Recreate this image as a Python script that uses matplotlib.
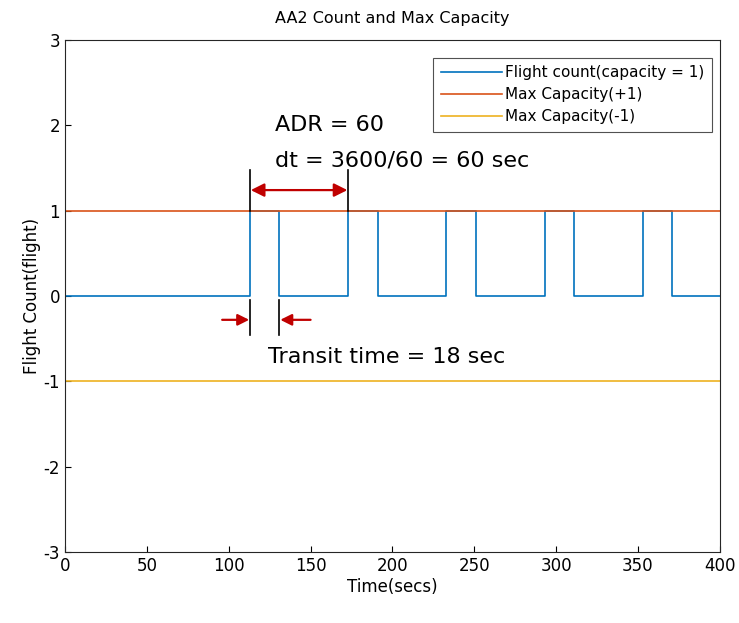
import numpy as np
import matplotlib
matplotlib.use("Agg")
import matplotlib.pyplot as plt

plt.rcParams["axes.unicode_minus"] = False

# flight count step signal: times where the count changes and the values after each change
edge_times = [0, 113, 131, 173, 191, 233, 251, 293, 311, 353, 371, 400]
edge_values = [0, 1, 0, 1, 0, 1, 0, 1, 0, 1, 0, 0]
max_cap_plus = 1
max_cap_minus = -1
x_ticks = [0, 50, 100, 150, 200, 250, 300, 350, 400]
y_ticks = [-3, -2, -1, 0, 1, 2, 3]

blue = "#0072BD"
orange = "#D95319"
yellow = "#EDB120"
red = "#C00000"

fig = plt.figure(figsize=(7.39, 6.23), dpi=100)
ax = fig.add_axes([0.088, 0.114, 0.886, 0.822])

ax.step(edge_times, edge_values, where="post", color=blue, lw=1.2,
        label="Flight count(capacity = 1)")
ax.plot([0, 400], [max_cap_plus] * 2, color=orange, lw=1.2, label="Max Capacity(+1)")
ax.plot([0, 400], [max_cap_minus] * 2, color=yellow, lw=1.2, label="Max Capacity(-1)")

ax.set_xlim(0, 400)
ax.set_ylim(-3, 3)
ax.set_xticks(x_ticks)
ax.set_yticks(y_ticks)
ax.tick_params(direction="in", length=4, labelsize=12, top=False, right=False)
for s in ax.spines.values():
    s.set_color("#262626")
ax.set_xlabel("Time(secs)", fontsize=12, labelpad=2)
ax.set_ylabel("Flight Count(flight)", fontsize=12, labelpad=2)
ax.set_title("AA2 Count and Max Capacity", fontsize=11.5, pad=12)

leg = ax.legend(loc="upper right", bbox_to_anchor=(0.988, 0.965), borderaxespad=0,
                fontsize=11, frameon=True, fancybox=False, edgecolor="#262626",
                handlelength=4.0, handletextpad=0.2, labelspacing=0.45, borderpad=0.5)
leg.get_frame().set_linewidth(0.8)

# ADR / dt annotation
rise1, rise2, fall1 = edge_times[1], edge_times[3], edge_times[2]
ax.plot([rise1, rise1], [1.0, 1.48], color="black", lw=1.2)
ax.plot([rise2, rise2], [1.0, 1.48], color="black", lw=1.2)
ax.annotate("", xy=(rise1 + 0.5, 1.24), xytext=(rise2 - 0.5, 1.24),
            arrowprops=dict(arrowstyle="<|-|>", color=red, lw=1.6, mutation_scale=20,
                            shrinkA=0, shrinkB=0))
ax.text(128, 2.0, "ADR = 60", fontsize=16, va="center")
ax.text(128, 1.59, "dt = 3600/60 = 60 sec", fontsize=16, va="center")

# transit time annotation
ax.plot([rise1, rise1], [-0.05, -0.46], color="black", lw=1.2)
ax.plot([fall1, fall1], [-0.05, -0.46], color="black", lw=1.2)
ax.annotate("", xy=(rise1 - 0.5, -0.28), xytext=(96, -0.28),
            arrowprops=dict(arrowstyle="-|>", color=red, lw=1.6, mutation_scale=17,
                            shrinkA=0, shrinkB=0))
ax.annotate("", xy=(fall1 + 0.5, -0.28), xytext=(150, -0.28),
            arrowprops=dict(arrowstyle="-|>", color=red, lw=1.6, mutation_scale=17,
                            shrinkA=0, shrinkB=0))
ax.text(124, -0.72, "Transit time = 18 sec", fontsize=16, va="center")

fig.savefig("out.png", dpi=100)
